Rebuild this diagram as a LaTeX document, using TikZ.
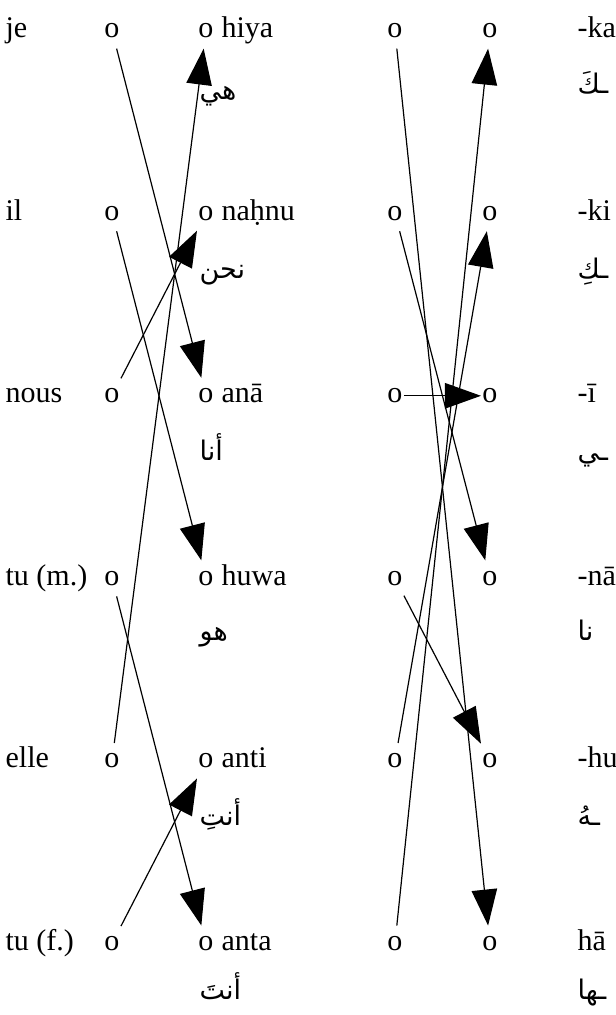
\documentclass[tikz,border=0pt]{standalone}
\usepackage{fontspec}
\setmainfont{Liberation Serif}
\newfontfamily\arabicfont[Script=Arabic]{DejaVu Sans}
\TeXXeTstate=1
\usetikzlibrary{arrows.meta}

\begin{document}
\begin{tikzpicture}[
  choice/.style={inner sep=0pt, outer sep=0pt, minimum width=6pt,
                 minimum height=12pt, anchor=base},
  word/.style={inner sep=0pt, anchor=base west},
  ar/.style={inner sep=0pt, anchor=base west,
             font=\arabicfont\fontsize{9}{11}\selectfont},
  arr/.style={-{Triangle[length=12pt, width=8.5pt]}, thin},
]
\useasboundingbox (0,0) rectangle (7.216,-11.891);
% French pronouns
\node[word] (je)   at (0.059,-0.440)  {je};
\node[word] (il)   at (0.059,-2.579)  {il};
\node[word] (nous) at (0.059,-4.718)  {nous};
\node[word] (tum)  at (0.059,-6.857)  {tu (m.)};
\node[word] (elle) at (0.059,-8.996)  {elle};
\node[word] (tuf)  at (0.059,-11.135) {tu (f.)};
\node[choice] (pje)   at (1.312,-0.440)  {o};
\node[choice] (pil)   at (1.312,-2.579)  {o};
\node[choice] (pnous) at (1.312,-4.718)  {o};
\node[choice] (ptum)  at (1.312,-6.857)  {o};
\node[choice] (pelle) at (1.312,-8.996)  {o};
\node[choice] (ptuf)  at (1.312,-11.135) {o};
% Arabic pronouns
\node[choice] (phiya)  at (2.413,-0.440)  {o};
\node[choice] (pnahnu) at (2.413,-2.579)  {o};
\node[choice] (pana)   at (2.413,-4.718)  {o};
\node[choice] (phuwa)  at (2.413,-6.857)  {o};
\node[choice] (panti)  at (2.413,-8.996)  {o};
\node[choice] (panta)  at (2.413,-11.135) {o};
\node[word] (hiya)  at (2.589,-0.440)  {hiya};
\node[word] (nahnu) at (2.589,-2.579)  {naḥnu};
\node[word] (ana)   at (2.589,-4.718)  {anā};
\node[word] (huwa)  at (2.589,-6.857)  {huwa};
\node[word] (anti)  at (2.589,-8.996)  {anti};
\node[word] (anta)  at (2.589,-11.135) {anta};
\node[ar] (hiyaar)  at (2.331,-1.160)  {\beginR هي\endR};
\node[ar] (nahnuar) at (2.331,-3.268)  {\beginR نحن\endR};
\node[ar] (anaar)   at (2.331,-5.389)  {\beginR أنا\endR};
\node[ar] (huwaar)  at (2.331,-7.498)  {\beginR هو\endR};
\node[ar] (antiar)  at (2.331,-9.665)  {\beginR أنتِ\endR};
\node[ar] (antaar)  at (2.331,-11.715) {\beginR أنتَ\endR};
% Suffixes
\node[choice] (sje)   at (4.627,-0.440)  {o};
\node[choice] (sil)   at (4.627,-2.579)  {o};
\node[choice] (snous) at (4.627,-4.718)  {o};
\node[choice] (stum)  at (4.627,-6.857)  {o};
\node[choice] (selle) at (4.627,-8.996)  {o};
\node[choice] (stuf)  at (4.627,-11.135) {o};
\node[choice] (ska) at (5.740,-0.440)  {o};
\node[choice] (ski) at (5.740,-2.579)  {o};
\node[choice] (si)  at (5.740,-4.718)  {o};
\node[choice] (sna) at (5.740,-6.857)  {o};
\node[choice] (shu) at (5.740,-8.996)  {o};
\node[choice] (sha) at (5.740,-11.135) {o};
\node[word] (ka) at (6.760,-0.440)  {-ka};
\node[word] (ki) at (6.760,-2.579)  {-ki};
\node[word] (ii) at (6.760,-4.718)  {-ī};
\node[word] (na) at (6.760,-6.857)  {-nā};
\node[word] (hu) at (6.760,-8.996)  {-hu};
\node[word] (ha) at (6.760,-11.135) {hā};
\node[ar] (kaar) at (6.760,-1.101)  {\beginR ـكَ\endR};
\node[ar] (kiar) at (6.760,-3.268)  {\beginR ـكِ\endR};
\node[ar] (iiar) at (6.760,-5.389)  {\beginR ـي\endR};
\node[ar] (naar) at (6.760,-7.498)  {\beginR نا\endR};
\node[ar] (huar) at (6.760,-9.665)  {\beginR ـهُ\endR};
\node[ar] (haar) at (6.760,-11.715) {\beginR ـها\endR};
% Arrows
\draw[arr] (pje)   -- (pana);
\draw[arr] (pil)   -- (phuwa);
\draw[arr] (pnous) -- (pnahnu);
\draw[arr] (ptum)  -- (panta);
\draw[arr] (pelle) -- (phiya);
\draw[arr] (ptuf)  -- (panti);
\draw[arr] (sje)   -- (sha);
\draw[arr] (sil)   -- (sna);
\draw[arr] (snous) -- (si);
\draw[arr] (stum)  -- (shu);
\draw[arr] (selle) -- (ski);
\draw[arr] (stuf)  -- (ska);
\end{tikzpicture}
\end{document}
